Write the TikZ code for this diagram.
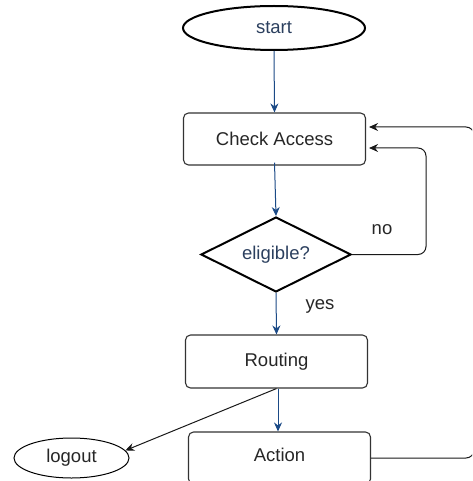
\documentclass[tikz,border=0pt]{standalone}
\usepackage{fontspec}
\setmainfont{Liberation Sans}
\usetikzlibrary{shapes.geometric,arrows.meta,calc}
\definecolor{flowblue}{HTML}{1B4A86}
\definecolor{txtblue}{HTML}{2B3F5E}
\definecolor{boxgray}{HTML}{333333}
\begin{document}
\begin{tikzpicture}[x=1pt,y=-1pt,
  every node/.style={font=\fontsize{18.5}{21}\selectfont},
  procbox/.style={draw=boxgray,line width=1.1pt,rounded corners=5pt,minimum width=182pt,inner sep=0pt,text=black!85},
  term/.style={draw=black,ellipse,inner sep=0pt},
  bluearr/.style={draw=flowblue,line width=1pt,-{Stealth[length=9pt,width=8pt]}},
  blackarr/.style={draw=black!90,line width=1pt,-{Stealth[length=9pt,width=8pt]},rounded corners=8pt}
]
\useasboundingbox (0,0) rectangle (472,481);
\clip (0,0) rectangle (472,481);
\node[term,line width=2pt,minimum width=182pt,minimum height=44pt,text=txtblue] (start) at (274,28) {start};
\node[procbox,minimum height=52pt] (chk) at (274.5,139) {Check Access};
\node[draw=black,diamond,line width=2pt,minimum width=150pt,minimum height=75pt,inner sep=0pt,
      label={[text=txtblue]center:eligible?}] (dia) at (276,254.5) {};
\node[procbox,minimum height=53pt] (rout) at (276.5,361.5) {Routing};
\node[procbox,minimum height=52pt] (act) at (279.5,458) {};
\node[text=black!85] (acttxt) at (279.5,455) {Action};
\node[term,line width=1pt,minimum width=115pt,minimum height=40pt,text=black!85] (logout) at (71.5,458) {logout};
\node[text=black!85] (nolbl) at (382,230) {no};
\node[text=black!85] (yeslbl) at (320,306) {yes};
\coordinate (nox) at (426,0);
\coordinate (loopx) at (474,0);
% connectors
\draw[bluearr] (start.south) -- (chk.north);
\draw[bluearr] ([yshift=3pt]chk.south) -- (dia.north);
\draw[bluearr] (dia.south) -- (rout.north);
\draw[bluearr] ([xshift=1.5pt]rout.south) -- ([xshift=-1.5pt]act.north);
\draw[blackarr] (rout.south) -- (logout.8);
\draw[blackarr,shorten >=3pt] (dia.east) -- (dia.east -| nox) -- ($(chk.east -| nox)+(0,9)$) -- ($(chk.east)+(0,9)$);
\draw[blackarr,shorten >=3pt] (act.east) -- (act.east -| loopx) -- ($(chk.east -| loopx)+(0,-12)$) -- ($(chk.east)+(0,-12)$);
\end{tikzpicture}
\end{document}
